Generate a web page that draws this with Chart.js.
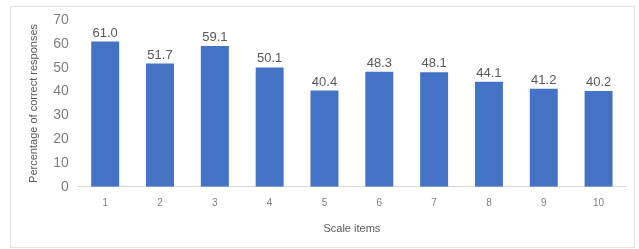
<!DOCTYPE html>
<html>
<head>
<meta charset="utf-8">
<script src="https://cdn.jsdelivr.net/npm/chart.js@4.4.0/dist/chart.umd.min.js"></script>
<style>
  body { margin: 0; background: #fff; }
  #frame { position: absolute; left: 10px; top: 6px; width: 623px; height: 240px; border: 1px solid #e3e3e3; }
  #wrap { position: absolute; left: 0; top: 0; width: 639px; height: 249px; }
</style>
</head>
<body>
<div id="frame"></div>
<div id="wrap"><canvas id="c" width="639" height="249"></canvas></div>
<script>
var item_labels = ['1', '2', '3', '4', '5', '6', '7', '8', '9', '10'];
var pct_correct = [61.0, 51.7, 59.1, 50.1, 40.4, 48.3, 48.1, 44.1, 41.2, 40.2];

// labels over the bars, like the excel original
var barValues = {
    id: 'barValues',
    afterDatasetsDraw: function (chart) {
        var ctx = chart.ctx;
        var meta = chart.getDatasetMeta(0);
        ctx.save();
        ctx.fillStyle = '#595959';
        ctx.font = '13px "Liberation Sans", Arial, sans-serif';
        ctx.textAlign = 'center';
        ctx.textBaseline = 'bottom';
        meta.data.forEach(function (bar, i) {
            ctx.fillText(pct_correct[i].toFixed(1), bar.x, bar.y - 2);
        });
        ctx.restore();
    }
};

new Chart(document.getElementById('c'), {
    type: 'bar',
    data: {
        labels: item_labels,
        datasets: [{
            label: 'Percentage of correct responses',
            data: pct_correct,
            backgroundColor: '#4472c4',
            barPercentage: 0.51,
            categoryPercentage: 1.0
        }]
    },
    options: {
        responsive: false,
        animation: false,
        devicePixelRatio: 1,
        layout: { padding: { left: 23, right: 13, top: 20, bottom: 9 } },
        plugins: {
            legend: { display: false },
            tooltip: { enabled: false }
        },
        scales: {
            x: {
                grid: { display: false, drawTicks: false },
                border: { color: '#d9d9d9' },
                ticks: { color: '#7f7f7f', font: { size: 10, family: 'Liberation Sans' }, padding: 10 },
                title: { display: true, text: 'Scale items', color: '#595959', font: { size: 11, family: 'Liberation Sans' }, padding: { top: 4 } }
            },
            y: {
                min: 0,
                max: 70,
                grid: { display: false, drawTicks: false },
                border: { display: false },
                ticks: { stepSize: 10, color: '#7f7f7f', font: { size: 14, family: 'Liberation Sans' }, padding: 9 },
                title: { display: true, text: 'Percentage of correct responses', color: '#595959', font: { size: 11, family: 'Liberation Sans' }, padding: 4 }
            }
        }
    },
    plugins: [barValues]
});
</script>
</body>
</html>
